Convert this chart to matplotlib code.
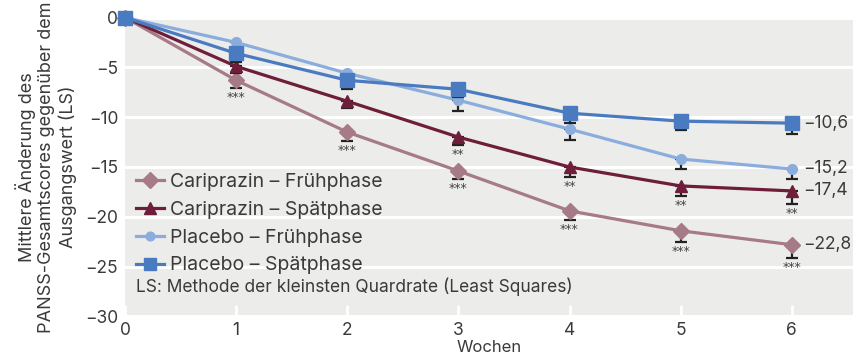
import matplotlib
matplotlib.use("Agg")
from matplotlib import pyplot as plt
import numpy as np

plt.rcParams['font.family'] = ['Inter', 'DejaVu Sans']

# Daten
weeks = [0, 1, 2, 3, 4, 5, 6]
cari_frueh = [0, -6.3, -11.5, -15.4, -19.4, -21.4, -22.8]
cari_spaet = [0, -4.9, -8.4, -12.0, -15.0, -16.9, -17.4]
plac_frueh = [0, -2.5, -5.6, -8.3, -11.2, -14.2, -15.2]
plac_spaet = [0, -3.6, -6.3, -7.2, -9.6, -10.4, -10.6]

cari_frueh_err = [0, 0.8, 0.9, 0.85, 0.95, 1.1, 1.3]
cari_spaet_err = [0, 0.7, 0.65, 0.8, 1.0, 1.05, 1.3]
plac_frueh_err = [0, 0.8, 0.9, 1.05, 1.05, 1.0, 1.0]
plac_spaet_err = [0, 0.9, 0.9, 0.8, 0.95, 0.9, 1.1]

cari_frueh_sig = ['', '***', '***', '***', '***', '***', '***']
cari_spaet_sig = ['', '', '', '**', '**', '**', '**']

labels = ['Cariprazin – Frühphase', 'Cariprazin – Spätphase',
          'Placebo – Frühphase', 'Placebo – Spätphase']
end_labels = ['−22,8', '−17,4', '−15,2', '−10,6']

text_col = '#3a3a3a'

fig = plt.figure(figsize=(8.54, 3.61), dpi=100)
ax = fig.add_axes([0.1464, 0.1233, 0.8536, 0.8282])
ax.set_facecolor('#ececea')

series = [
    (cari_frueh, cari_frueh_err, '#a67a86', 'D', 8.5),
    (cari_spaet, cari_spaet_err, '#6e1e3a', '^', 9),
    (plac_frueh, plac_frueh_err, '#8badde', 'o', 7),
    (plac_spaet, plac_spaet_err, '#4a7bc1', 's', 9.5),
]

for i, (vals, err, col, mk, ms) in enumerate(series):
    lower = np.array(err)
    ax.errorbar(weeks, vals, yerr=[lower, np.zeros_like(lower)], fmt='none',
                ecolor='#222222', elinewidth=1.6, capsize=4, capthick=1.6,
                zorder=2 + i)
    ax.plot(weeks, vals, color=col, marker=mk, markersize=ms, lw=2.3,
            label=labels[i], zorder=3 + i, clip_on=False)
    ax.text(6.1, vals[-1], end_labels[i], fontsize=12.5, color=text_col,
            va='center', ha='left')

# Signifikanzsterne
for vals, err, sig in [(cari_frueh, cari_frueh_err, cari_frueh_sig),
                       (cari_spaet, cari_spaet_err, cari_spaet_sig)]:
    for w, v, e, s in zip(weeks, vals, err, sig):
        if s:
            ax.text(w, v - e - 0.3, s, fontsize=9, color='#444444',
                    ha='center', va='top', family='DejaVu Sans')

ax.set_xlim(0, 6.56)
ax.set_ylim(-30, 0)
ax.set_xticks(weeks)
ax.set_yticks([0, -5, -10, -15, -20, -25, -30])
ax.set_yticklabels(['0', '−5', '−10', '−15', '−20', '−25', '−30'])
ax.grid(axis='y', color='white', lw=2.2)
ax.set_axisbelow(True)
for sp in ax.spines.values():
    sp.set_visible(False)
ax.tick_params(axis='y', length=0, labelsize=12.5, labelcolor=text_col, pad=5)
ax.tick_params(axis='x', direction='in', length=8, width=2, color='white',
               labelsize=12.5, labelcolor=text_col, pad=4)

ax.set_xlabel('Wochen', fontsize=12, color=text_col, labelpad=1)
ax.set_ylabel('Mittlere Änderung des\nPANSS-Gesamtscores gegenüber dem\nAusgangswert (LS)',
              fontsize=13, color=text_col, labelpad=6, linespacing=1.2)

leg = ax.legend(loc='upper left', bbox_to_anchor=(0.005, 0.505), frameon=False,
                fontsize=14, handlelength=1.4, labelspacing=0.5,
                borderaxespad=0, handletextpad=0.35, markerscale=0.9)
for t in leg.get_texts():
    t.set_color(text_col)

ax.text(0.1, -27.0, 'LS: Methode der kleinsten Quardrate (Least Squares)',
        fontsize=12.5, color=text_col, va='center', ha='left')

plt.savefig('out.png', dpi=100)
